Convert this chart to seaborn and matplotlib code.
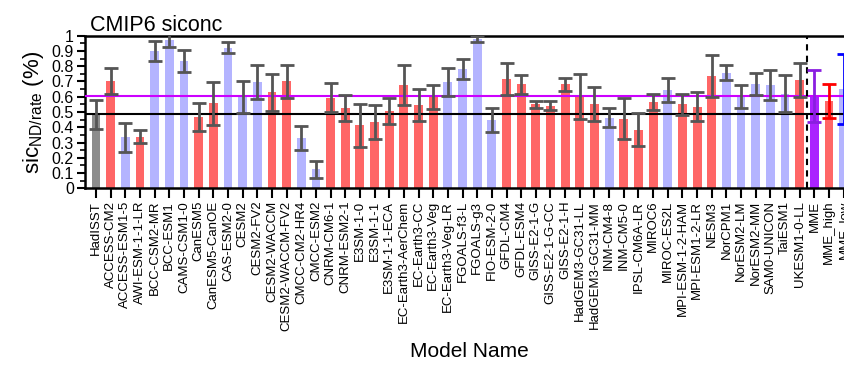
import numpy as np
import pandas as pd
import matplotlib
matplotlib.use("Agg")
import matplotlib.pyplot as plt
import seaborn as sns
from matplotlib.ticker import MultipleLocator

# Model names (x categories)
models = ["HadISST", "ACCESS-CM2", "ACCESS-ESM1-5", "AWI-ESM-1-1-LR", "BCC-CSM2-MR",
          "BCC-ESM1", "CAMS-CSM1-0", "CanESM5", "CanESM5-CanOE", "CAS-ESM2-0",
          "CESM2", "CESM2-FV2", "CESM2-WACCM", "CESM2-WACCM-FV2", "CMCC-CM2-HR4",
          "CMCC-ESM2", "CNRM-CM6-1", "CNRM-ESM2-1", "E3SM-1-0", "E3SM-1-1",
          "E3SM-1-1-ECA", "EC-Earth3-AerChem", "EC-Earth3-CC", "EC-Earth3-Veg",
          "EC-Earth3-Veg-LR", "FGOALS-f3-L", "FGOALS-g3", "FIO-ESM-2-0", "GFDL-CM4",
          "GFDL-ESM4", "GISS-E2-1-G", "GISS-E2-1-G-CC", "GISS-E2-1-H",
          "HadGEM3-GC31-LL", "HadGEM3-GC31-MM", "INM-CM4-8", "INM-CM5-0",
          "IPSL-CM6A-LR", "MIROC6", "MIROC-ES2L", "MPI-ESM-1-2-HAM", "MPI-ESM1-2-LR",
          "NESM3", "NorCPM1", "NorESM2-LM", "NorESM2-MM", "SAM0-UNICON", "TaiESM1",
          "UKESM1-0-LL", "MME", "MME_high", "MME_low"]

# sic ND/rate values and spread
sic = [0.485, 0.703, 0.334, 0.338, 0.900, 0.970, 0.834, 0.469, 0.557, 0.921,
       0.600, 0.697, 0.629, 0.700, 0.330, 0.125, 0.594, 0.528, 0.413, 0.437,
       0.507, 0.677, 0.544, 0.598, 0.697, 0.780, 0.976, 0.448, 0.714, 0.683,
       0.550, 0.540, 0.681, 0.600, 0.552, 0.463, 0.456, 0.384, 0.566, 0.644,
       0.550, 0.535, 0.734, 0.758, 0.600, 0.683, 0.677, 0.620, 0.710, 0.605,
       0.572, 0.651]
err = [0.095, 0.087, 0.094, 0.044, 0.065, 0.045, 0.071, 0.092, 0.142, 0.035,
       0.104, 0.113, 0.122, 0.105, 0.077, 0.057, 0.096, 0.085, 0.142, 0.112,
       0.085, 0.133, 0.104, 0.080, 0.090, 0.065, 0.020, 0.081, 0.104, 0.062,
       0.022, 0.030, 0.043, 0.146, 0.109, 0.061, 0.133, 0.107, 0.055, 0.076,
       0.069, 0.096, 0.138, 0.049, 0.074, 0.071, 0.096, 0.122, 0.113, 0.170,
       0.109, 0.232]
# group: obs / high / low / mme
group = ["obs", "high", "low", "high", "low", "low", "low", "high", "high", "low",
         "low", "low", "high", "high", "low", "low", "high", "high", "high", "high",
         "high", "high", "high", "high", "low", "low", "low", "low", "high", "high",
         "high", "high", "high", "high", "high", "low", "high", "high", "high", "low",
         "high", "high", "high", "low", "low", "low", "low", "low", "high", "mme",
         "high", "low"]

obs_value = 0.485
mme_value = 0.605

bar_col = {"obs": "#8c8c8c", "high": "#ff6666", "low": "#b4b4ff", "mme": "#aa22ff"}
err_col = ["#555555"] * 49 + ["#8a1ee0", "#ff0000", "#0000ff"]

df = pd.DataFrame({"Model": models, "sic": sic, "err": err, "group": group})

plt.rcParams["font.family"] = ["Liberation Sans", "DejaVu Sans"]
plt.rcParams["mathtext.default"] = "regular"

fig = plt.figure(figsize=(8.44, 3.70), dpi=100)
ax = fig.add_axes([0.1007, 0.491, 0.912, 0.4125])

sns.barplot(data=df, x="Model", y="sic", hue="Model",
            palette=[bar_col[g] for g in group], legend=False,
            width=0.6, saturation=1, ax=ax, zorder=2)

ax.axhline(obs_value, color="black", lw=1.5, zorder=3)
ax.axhline(mme_value, color="#cc00ff", lw=1.5, zorder=3)
ax.axvline(48.5, color="black", lw=1.5, ls=(0, (3, 2.5)), zorder=3)

for i in range(len(models)):
    ax.errorbar(i, sic[i], yerr=err[i], color=err_col[i], elinewidth=2,
                capsize=5, capthick=2, zorder=4)

ax.set_xlim(-0.75, 51.75)
ax.set_ylim(0, 1)
ax.yaxis.set_minor_locator(MultipleLocator(0.05))
ax.set_yticks(np.arange(0, 1.01, 0.1))
ax.set_yticklabels(["0", "0.1", "0.2", "0.3", "0.4", "0.5", "0.6", "0.7",
                    "0.8", "0.9", "1"], fontsize=11.5)
ax.tick_params(axis="y", which="major", direction="out", length=6, width=1.5, pad=2)
ax.tick_params(axis="y", which="minor", direction="out", length=3.5, width=1.2)
ax.tick_params(axis="x", direction="out", length=7, width=1.5, labelsize=9.5,
               labelrotation=90, pad=2)

for s in ax.spines.values():
    s.set_linewidth(1.8)
    s.set_color("black")

ax.set_title("CMIP6 siconc", loc="left", fontsize=15.5, pad=3, x=0.006)
ax.set_ylabel(r"sic$_{ND/rate}$ (%)", fontsize=16, labelpad=4)
ax.set_xlabel("Model Name", fontsize=15, labelpad=8)

fig.savefig("out.png", dpi=100)
